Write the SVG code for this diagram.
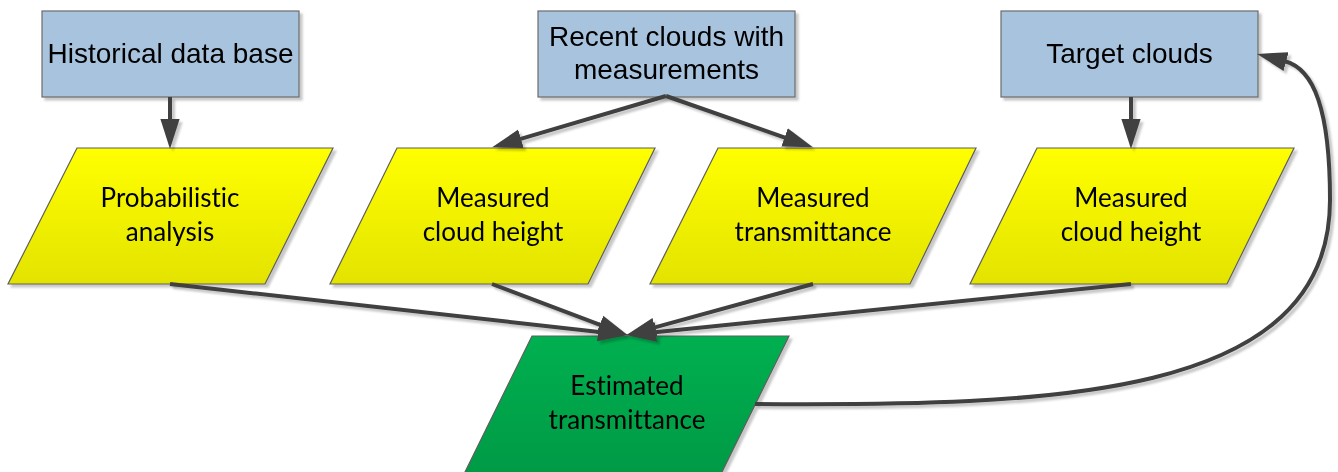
<svg xmlns="http://www.w3.org/2000/svg" width="1338" height="472" viewBox="0 0 1338 472">
<style>
.box{fill:#A7C3DD;stroke:#6B6B6B;stroke-width:1.2}
.yl{fill:url(#gy);stroke:#5E5E5E;stroke-width:1.2}
.gr{fill:url(#gg);stroke:#5E5E5E;stroke-width:1.2}
.t1{font-family:"Liberation Sans",Arial,sans-serif;font-size:28px;fill:#000;text-anchor:middle}
.t2{font-family:Lato,"Liberation Sans",sans-serif;font-size:26px;fill:#000;text-anchor:middle;font-variant-ligatures:none;font-feature-settings:"liga" 0}
.cn{fill:none;stroke:#404040;stroke-width:4;marker-end:url(#ah)}
</style>
<defs>
<linearGradient id="gy" x1="0" y1="0" x2="0" y2="1">
<stop offset="0" stop-color="#FFFF00"/>
<stop offset="1" stop-color="#E3E300"/>
</linearGradient>
<linearGradient id="gg" x1="0" y1="0" x2="0" y2="1">
<stop offset="0" stop-color="#00B050"/>
<stop offset="1" stop-color="#009A45"/>
</linearGradient>
<filter id="sh" x="-10%" y="-10%" width="130%" height="130%">
<feDropShadow dx="3" dy="3" stdDeviation="0.8" flood-color="#000" flood-opacity="0.22"/>
</filter>
<marker id="ah" markerUnits="userSpaceOnUse" markerWidth="30" markerHeight="20" viewBox="0 0 28 18" refX="1" refY="9" orient="auto">
<path d="M0,0 L28,9 L0,18 z" fill="#404040"/>
</marker>
</defs>
<rect width="1338" height="472" fill="#fff"/>

<g id="historical" filter="url(#sh)">
<rect class="box" x="42" y="11" width="257" height="86"/>
<text class="t1" x="170.5" y="63">Historical data base</text>
</g>
<g id="recent" filter="url(#sh)">
<rect class="box" x="538" y="11" width="257" height="86"/>
<text class="t1" x="666.5" y="46">Recent clouds with</text>
<text class="t1" x="666.5" y="79">measurements</text>
</g>
<g id="target" filter="url(#sh)">
<rect class="box" x="1001" y="11" width="257" height="86"/>
<text class="t1" x="1129.5" y="63">Target clouds</text>
</g>

<g id="probabilistic" filter="url(#sh)">
<polygon class="yl" points="77,148 333,148 265,284 8,284"/>
<text class="t2" x="170" y="207">Probabilistic</text>
<text class="t2" x="170" y="241">analysis</text>
</g>
<g id="height1" filter="url(#sh)">
<polygon class="yl" points="397,148 655,148 588,284 330,284"/>
<text class="t2" x="493" y="207">Measured</text>
<text class="t2" x="493" y="241">cloud height</text>
</g>
<g id="transm" filter="url(#sh)">
<polygon class="yl" points="718,148 976,148 910,284 650,284"/>
<text class="t2" x="813" y="207">Measured</text>
<text class="t2" x="813" y="241">transmittance</text>
</g>
<g id="height2" filter="url(#sh)">
<polygon class="yl" points="1037,148 1294,148 1227,284 970,284"/>
<text class="t2" x="1131" y="207">Measured</text>
<text class="t2" x="1131" y="241">cloud height</text>
</g>
<g id="estimated" filter="url(#sh)">
<polygon class="gr" points="532,336 789,336 721,474 464,474"/>
<text class="t2" x="627" y="395">Estimated</text>
<text class="t2" x="627" y="429">transmittance</text>
</g>

<g id="connectors" filter="url(#sh)">
<path class="cn" d="M170,97 L170,120"/>
<path class="cn" d="M666,96 L519.9,139.1"/>
<path class="cn" d="M666,96 L785.6,137.8"/>
<path class="cn" d="M1131,97 L1131,120"/>
<path class="cn" d="M170,284 L599.2,331.9"/>
<path class="cn" d="M492,284 L600.8,325.1"/>
<path class="cn" d="M813,284 L654,327.6"/>
<path class="cn" d="M1131,284 L654.9,332.2"/>
<path class="cn" d="M755,404 C1050,406 1330,400 1330,200 C1330,110 1314,69 1285,61.3"/>
</g>
</svg>
